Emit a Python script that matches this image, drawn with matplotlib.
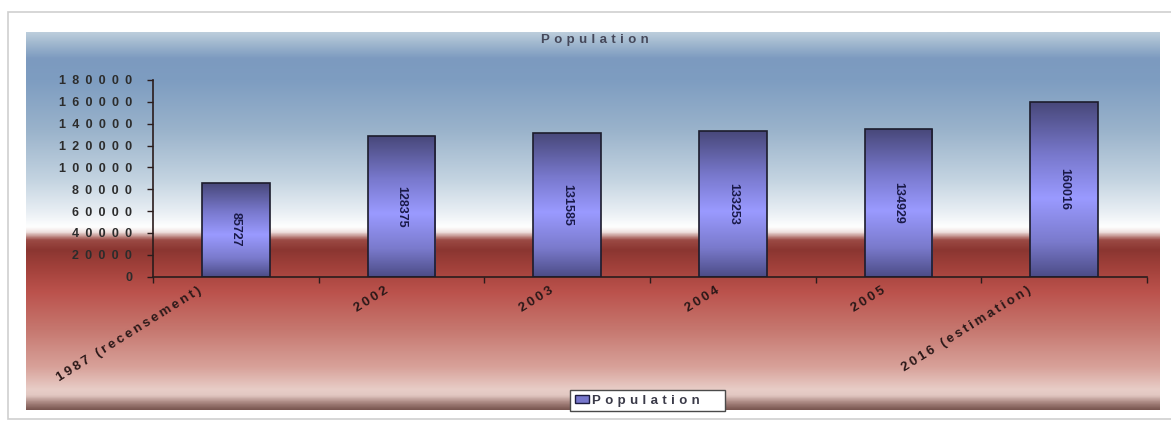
import numpy as np
import matplotlib
matplotlib.use("Agg")
import matplotlib.pyplot as plt
from matplotlib.colors import LinearSegmentedColormap
from matplotlib.patches import Rectangle, Patch
from matplotlib.transforms import ScaledTranslation

# ---- data ----
categories = ["1987 (recensement)", "2002", "2003", "2004", "2005", "2016 (estimation)"]
population = [85727, 128375, 131585, 133253, 134929, 160016]
y_ticks = [0, 20000, 40000, 60000, 80000, 100000, 120000, 140000, 160000, 180000]
series_name = "Population"
chart_title = "Population"

plt.rcParams["font.family"] = ["Liberation Sans", "DejaVu Sans"]

W, H = 1171, 425
DPI = 100
fig = plt.figure(figsize=(W / DPI, H / DPI), dpi=DPI)
fig.patch.set_facecolor("white")


def px_box(x0, y0, x1, y1):
    """pixel box (top-left origin) -> figure rect [l, b, w, h]"""
    return [x0 / W, 1 - y1 / H, (x1 - x0) / W, (y1 - y0) / H]


def spaced(s, gap):
    return gap.join(s)


# outer white frame
fig.patches.append(Rectangle((8 / W, 1 - 419 / H), (1175 - 8) / W, (419 - 12) / H,
                             transform=fig.transFigure, facecolor="white",
                             edgecolor="#cfcfcf", lw=1.2, zorder=-1))

# chart-area background gradient: steel blue on top, white band, red below
top, bot = 32, 410
stops = [
    (32, "#bccddc"), (42, "#a2b9cf"), (58, "#7c9abf"), (80, "#7e9dc1"),
    (130, "#9ab3cb"), (180, "#c4d4e1"), (212, "#e9eff4"), (227, "#ffffff"),
    (232, "#efe2e0"), (240, "#9b4a44"), (250, "#8b3631"), (268, "#a2413b"),
    (292, "#bb524c"), (330, "#c6776f"), (368, "#d8a29a"), (390, "#e8cdc7"),
    (396, "#e2c8c2"), (403, "#aa8781"), (410, "#7a5751"),
]
pos = [(y - top) / (bot - top) for y, _ in stops]
bg_cmap = LinearSegmentedColormap.from_list("bg", list(zip(pos, [c for _, c in stops])))
bg = fig.add_axes(px_box(26, top, 1160, bot))
bg.imshow(np.linspace(0, 1, 512)[:, None], aspect="auto", cmap=bg_cmap,
          extent=(0, 1, 0, 1), origin="upper", interpolation="bilinear")
bg.set_axis_off()
bg.set_zorder(0)

# title
fig.text(595 / W, 1 - 40.5 / H, spaced(chart_title, "\u2004"), ha="center", va="center",
         fontsize=9.5, fontweight="bold", color="#45485a")

# main plot axes
ax = fig.add_axes(px_box(153, 80, 1147, 276.5))
ax.set_zorder(1)
ax.patch.set_visible(False)
x = np.arange(len(categories))
bar_w = 0.41

bar_cmap = LinearSegmentedColormap.from_list(
    "bar", [(0.0, "#48487a"), (0.3, "#7878cc"), (0.55, "#9a9aff"),
            (0.8, "#7a7acc"), (1.0, "#4c4c86")])
grad = np.linspace(0, 1, 256)[:, None]
bars = ax.bar(x, population, width=bar_w, facecolor="none",
              edgecolor="#1c1c2c", linewidth=1.2, zorder=3)
for rect, val in zip(bars, population):
    x0 = rect.get_x()
    im = ax.imshow(grad, aspect="auto", cmap=bar_cmap, origin="upper",
                   extent=(x0, x0 + rect.get_width(), 0, rect.get_height()),
                   interpolation="bilinear", zorder=2)
    im.set_clip_path(rect)
    ax.text(rect.get_x() + rect.get_width() / 2, val / 2, f"{val}",
            rotation=270, ha="center", va="center", fontsize=9,
            fontweight="bold", color="#1a1a48", zorder=4)
ax.set_xlim(-0.5, len(categories) - 0.5)
ax.set_ylim(0, 180000)

for side in ("top", "right"):
    ax.spines[side].set_visible(False)
for side in ("left", "bottom"):
    ax.spines[side].set_color("#2a1c1c")
    ax.spines[side].set_linewidth(1.2)

ax.set_yticks(y_ticks)
ax.set_yticklabels([spaced(str(v), "\u2002") for v in y_ticks])
ax.tick_params(axis="y", direction="out", length=4, width=1, color="#2a1c1c",
               pad=11, labelsize=9, labelcolor="#2c2c2c")
for lbl in ax.get_yticklabels():
    lbl.set_fontweight("bold")

ax.set_xticks(np.arange(-0.5, len(categories)), minor=True)
ax.set_xticks([])
ax.tick_params(axis="x", which="minor", direction="out", length=4, width=1,
               color="#2a1c1c")

# rotated category labels below the axis
for xi, cat in zip(x, categories):
    dx = -(12 + 1.5 * len(cat)) / DPI
    tr = ax.get_xaxis_transform() + ScaledTranslation(dx, -8 / DPI, fig.dpi_scale_trans)
    ax.text(xi, 0, spaced(cat, "\u2009"), transform=tr, rotation=32,
            rotation_mode="anchor", ha="right", va="top", fontsize=9.5,
            fontweight="bold", color="#2a1818", zorder=4)

# legend
leg = ax.legend(handles=[Patch(facecolor="#7777cc", edgecolor="#1c1c40", lw=1)],
                labels=[spaced(series_name, "\u2004") + "\u2002\u2002\u2002"],
                loc="upper left", bbox_to_anchor=(570 / W, 1 - 390 / H),
                bbox_transform=fig.transFigure, borderaxespad=0, borderpad=0.35,
                handlelength=1.1, handleheight=0.55, handletextpad=0.25,
                fancybox=False, framealpha=1, edgecolor="#4a4a4a",
                prop={"size": 9.5, "weight": "bold"})
leg.get_frame().set_linewidth(1.0)
for t in leg.get_texts():
    t.set_color("#3a3a48")

fig.savefig("out.png", dpi=DPI)
